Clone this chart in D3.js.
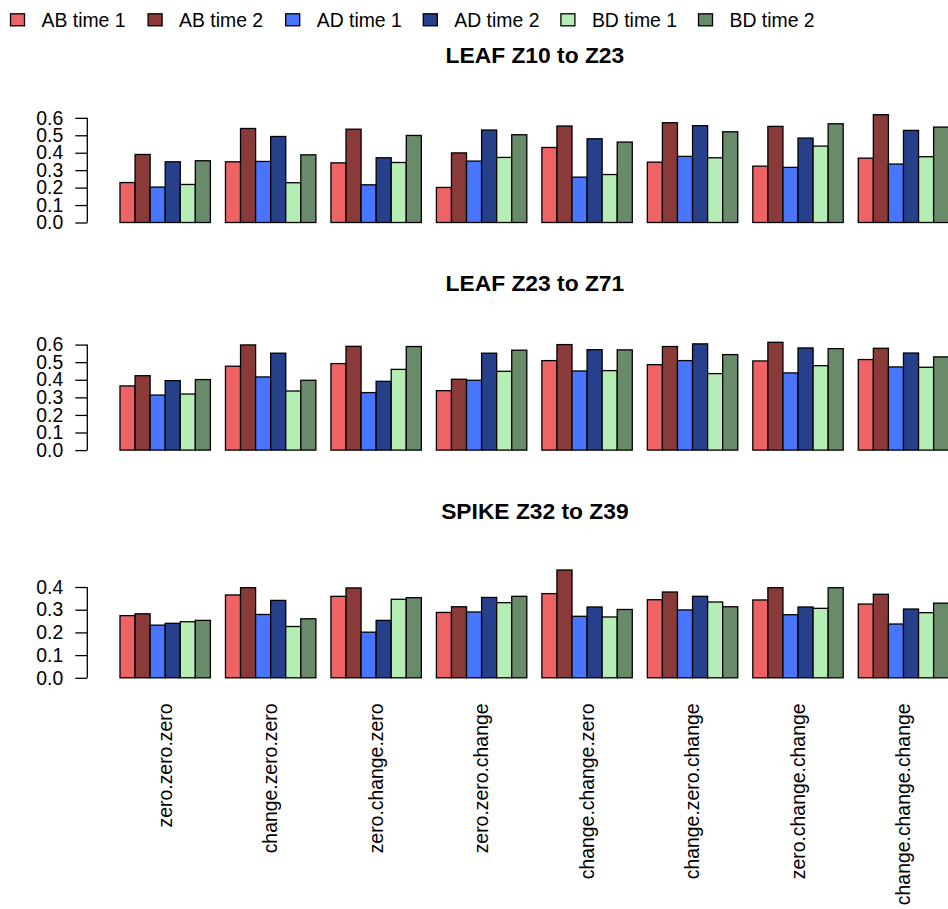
<!DOCTYPE html>
<html>
<head>
<meta charset="utf-8">
<script src="https://cdn.jsdelivr.net/npm/d3@7"></script>
<style>
  html, body { margin: 0; padding: 0; background: #fff; }
  svg { display: block; }
  text { font-family: "Liberation Sans", Arial, Helvetica, sans-serif; fill: #000; }
</style>
</head>
<body>
<svg id="chart" width="948" height="909"></svg>
<script>
// ---- data ----
const categories = ["zero.zero.zero", "change.zero.zero", "zero.change.zero", "zero.zero.change",
                    "change.change.zero", "change.zero.change", "zero.change.change", "change.change.change"];
const seriesNames = ["AB time 1", "AB time 2", "AD time 1", "AD time 2", "BD time 1", "BD time 2"];
const seriesColors = ["#EE6363", "#8B3A3A", "#4876FF", "#27408B", "#B4EEB4", "#698B69"];
const panelTitles = ["LEAF Z10 to Z23", "LEAF Z23 to Z71", "SPIKE Z32 to Z39"];

// each row = one category, columns in seriesNames order
const leafZ10toZ23 = [
  [0.229, 0.390, 0.203, 0.348, 0.218, 0.354],
  [0.348, 0.539, 0.350, 0.493, 0.228, 0.388],
  [0.342, 0.535, 0.216, 0.371, 0.344, 0.499],
  [0.201, 0.399, 0.352, 0.530, 0.373, 0.503],
  [0.430, 0.553, 0.260, 0.480, 0.275, 0.461],
  [0.346, 0.572, 0.379, 0.555, 0.371, 0.520],
  [0.323, 0.551, 0.316, 0.484, 0.438, 0.566],
  [0.369, 0.618, 0.335, 0.528, 0.377, 0.547]
];
const leafZ23toZ71 = [
  [0.365, 0.423, 0.313, 0.395, 0.319, 0.401],
  [0.477, 0.598, 0.416, 0.551, 0.336, 0.397],
  [0.492, 0.590, 0.327, 0.391, 0.459, 0.589],
  [0.338, 0.403, 0.397, 0.551, 0.448, 0.568],
  [0.509, 0.600, 0.450, 0.571, 0.452, 0.570],
  [0.486, 0.589, 0.509, 0.604, 0.435, 0.543],
  [0.507, 0.613, 0.439, 0.581, 0.480, 0.577],
  [0.515, 0.579, 0.473, 0.552, 0.471, 0.530]
];
const spikeZ32toZ39 = [
  [0.274, 0.282, 0.232, 0.240, 0.247, 0.253],
  [0.365, 0.397, 0.279, 0.341, 0.226, 0.260],
  [0.359, 0.396, 0.201, 0.253, 0.346, 0.353],
  [0.288, 0.313, 0.290, 0.354, 0.331, 0.359],
  [0.371, 0.475, 0.271, 0.312, 0.268, 0.301],
  [0.344, 0.378, 0.299, 0.359, 0.334, 0.313],
  [0.343, 0.397, 0.278, 0.312, 0.306, 0.397],
  [0.325, 0.368, 0.237, 0.303, 0.287, 0.329]
];
const yTicks = [
  [0, 0.1, 0.2, 0.3, 0.4, 0.5, 0.6],
  [0, 0.1, 0.2, 0.3, 0.4, 0.5, 0.6],
  [0, 0.1, 0.2, 0.3, 0.4]
];
const panels = [leafZ10toZ23, leafZ23toZ71, spikeZ32toZ39];

// ---- layout ----
const svg = d3.select("#chart");
const FS = 19.4;
const nSeries = seriesNames.length;
const unitsPerGroup = nSeries + 1;
const totalUnits = categories.length * unitsPerGroup;
const x = d3.scaleLinear().domain([0, totalUnits]).range([104.93, 104.93 + totalUnits * 15.067]);
const bw = x(1) - x(0);
const axisX = 87.3;
const zeroYs = [222.5, 450.1, 677.8];
const barMaxH = 107.8;
const titleYs = [63.3, 291.0, 518.7];
const titleX = 534.9;

panels.forEach((data, p) => {
  const maxV = d3.max(data.flat());
  const y = d3.scaleLinear().domain([0, maxV]).range([zeroYs[p], zeroYs[p] - barMaxH]);
  const g = svg.append("g");

  // bars
  data.forEach((row, gi) => {
    g.selectAll(null).data(row).enter().append("rect")
      .attr("x", (d, i) => x(gi * unitsPerGroup + 1 + i))
      .attr("width", bw)
      .attr("y", d => y(d))
      .attr("height", d => y(0) - y(d))
      .attr("fill", (d, i) => seriesColors[i])
      .attr("stroke", "#000")
      .attr("stroke-width", 1.3);
  });

  // y axis
  const axis = d3.axisLeft(y).tickValues(yTicks[p]).tickFormat(d3.format(".1f"))
    .tickSize(12).tickPadding(12);
  const ax = g.append("g").attr("transform", `translate(${axisX},0)`).call(axis);
  ax.select(".domain").attr("d", `M-0,${y(yTicks[p][0])}V${y(yTicks[p][yTicks[p].length - 1])}`)
    .attr("stroke", "#000").attr("stroke-width", 1.3);
  ax.selectAll(".tick line").attr("stroke", "#000").attr("stroke-width", 1.3);
  ax.selectAll(".tick text").style("font-size", FS + "px")
    .style("font-family", '"Liberation Sans", Arial, sans-serif').attr("fill", "#000");

  // title
  svg.append("text").attr("x", titleX).attr("y", titleYs[p])
    .attr("text-anchor", "middle").style("font-weight", "bold").style("font-size", "22.8px")
    .text(panelTitles[p]);
});

// category labels under last panel
svg.append("g").selectAll("text").data(categories).enter().append("text")
  .attr("transform", (d, i) => `translate(${x(i * unitsPerGroup + 4)},703.5) rotate(-90)`)
  .attr("text-anchor", "end")
  .attr("dy", "0.35em")
  .style("font-size", FS + "px")
  .text(d => d);

// legend
const legend = svg.append("g");
const legItems = legend.selectAll("g").data(seriesNames).enter().append("g")
  .attr("transform", (d, i) => `translate(${10.5 + i * 137.6},0)`);
legItems.append("rect").attr("x", 0).attr("y", 13.8).attr("width", 14).attr("height", 12)
  .attr("fill", (d, i) => seriesColors[i]).attr("stroke", "#000").attr("stroke-width", 1.3);
legItems.append("text").attr("x", 31).attr("y", 26.7).style("font-size", FS + "px").text(d => d);
</script>
</body>
</html>
